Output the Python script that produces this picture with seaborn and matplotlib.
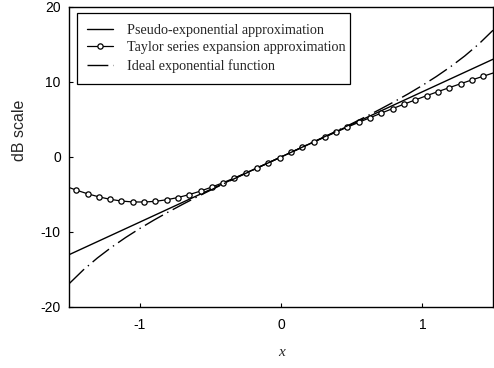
import numpy as np
import pandas as pd
import matplotlib
matplotlib.use("Agg")
import matplotlib.pyplot as plt
import seaborn as sns

# Pseudo-exponential approximation (solid line)
pseudo_x = [-1.5, -1.0, -0.5, 0.0, 0.5, 1.0, 1.5]
pseudo_y = [-13.03, -8.69, -4.34, 0.0, 4.34, 8.69, 13.03]

# Taylor series expansion approximation (line with open circles)
taylor_x = [-1.5, -1.45, -1.37, -1.29, -1.21, -1.13, -1.05, -0.97, -0.89, -0.81, -0.73,
            -0.65, -0.57, -0.49, -0.41, -0.33, -0.25, -0.17, -0.09, -0.01, 0.07,
            0.15, 0.23, 0.31, 0.39, 0.47, 0.55, 0.63, 0.71, 0.79, 0.87,
            0.95, 1.03, 1.11, 1.19, 1.27, 1.35, 1.43, 1.5]
taylor_y = [-4.08, -4.42, -4.91, -5.32, -5.65, -5.88, -6.00, -6.01, -5.92, -5.71, -5.41,
            -5.02, -4.55, -4.01, -3.43, -2.80, -2.14, -1.47, -0.78, -0.09, 0.61,
            1.30, 1.98, 2.66, 3.32, 3.98, 4.62, 5.24, 5.85, 6.45, 7.04,
            7.61, 8.17, 8.71, 9.24, 9.76, 10.27, 10.76, 11.19]

# Ideal exponential function (dash-dot line)
ideal_x = [-1.5, -1.4, -1.3, -1.2, -1.1, -1.0, -0.9, -0.8, -0.7, -0.6, -0.5, -0.4, -0.3,
           -0.2, -0.1, 0.0, 0.1, 0.2, 0.3, 0.4, 0.5, 0.6, 0.7, 0.8, 0.9, 1.0,
           1.1, 1.2, 1.3, 1.4, 1.5]
ideal_y = [-16.90, -15.07, -13.47, -12.04, -10.74, -9.54, -8.42, -7.36, -6.35, -5.38,
           -4.44, -3.52, -2.63, -1.74, -0.87, 0.0, 0.87, 1.74, 2.63, 3.52, 4.44,
           5.38, 6.35, 7.36, 8.42, 9.54, 10.74, 12.04, 13.47, 15.07, 16.90]

labels = ["Pseudo-exponential approximation",
          "Taylor series expansion approximation",
          "Ideal exponential function"]
x_ticks = [-1, 0, 1]
y_ticks = [-20, -10, 0, 10, 20]

sns.set_style("ticks")
plt.rcParams['font.family'] = ['Liberation Sans', 'DejaVu Sans']
plt.rcParams['axes.unicode_minus'] = False

fig = plt.figure(figsize=(4.94, 3.68), dpi=100)
ax = fig.add_axes([0.140, 0.166, 0.858, 0.815])

sns.lineplot(x=pseudo_x, y=pseudo_y, ax=ax, color="black", linewidth=1.0,
             label=labels[0], sort=False)
sns.lineplot(x=taylor_x, y=taylor_y, ax=ax, color="black", linewidth=0.9,
             marker="o", markersize=3.8, markerfacecolor="white",
             markeredgecolor="black", markeredgewidth=0.9,
             markevery=slice(1, -1), label=labels[1], sort=False)
sns.lineplot(x=ideal_x, y=ideal_y, ax=ax, color="black", linewidth=1.0,
             linestyle=(0, (15, 3.5, 1, 3.5)), label=labels[2], sort=False)

ax.set_xlim(-1.5, 1.5)
ax.set_ylim(-20, 20)
ax.set_xticks(x_ticks)
ax.set_yticks(y_ticks)
ax.tick_params(direction="in", length=3, width=0.8, labelsize=10, colors="black")
ax.tick_params(axis="x", pad=8)
ax.tick_params(axis="y", pad=6)
for s in ax.spines.values():
    s.set_linewidth(1.0)
    s.set_color("black")

ax.set_xlabel("x", fontsize=11, family=["Liberation Serif"], style="italic")
ax.xaxis.set_label_coords(0.5, -0.13)
ax.set_ylabel("dB scale", fontsize=11.5)
ax.yaxis.set_label_coords(-0.10, 0.59)

leg = ax.legend(loc="upper left", bbox_to_anchor=(0.018, 0.98, 0.644, 0.0),
                mode="expand",
                prop={"family": "Liberation Serif", "size": 10.2},
                frameon=True, fancybox=False, edgecolor="black", framealpha=1,
                handlelength=1.8, handletextpad=1.0, borderpad=0.75,
                labelspacing=0.34, borderaxespad=0.0)
leg.get_frame().set_linewidth(0.9)

fig.savefig("out.png", dpi=100)
